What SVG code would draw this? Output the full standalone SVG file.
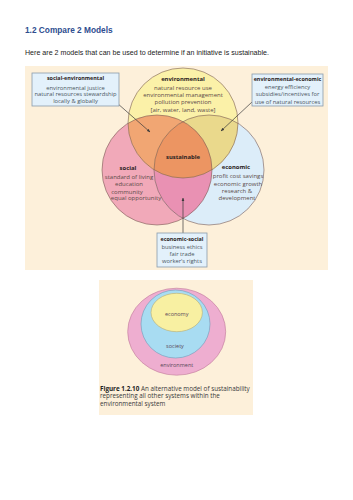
<svg xmlns="http://www.w3.org/2000/svg" width="353" height="500" viewBox="0 0 353 500">
<style>
.title{font-family:"Liberation Sans",Arial,sans-serif;font-weight:bold;font-size:8.3px;fill:#2e4d8f}
.intro{font-family:"Liberation Sans",Arial,sans-serif;font-size:6.4px;fill:#222}
.h{font-family:"Open Sans","Noto Sans",sans-serif;font-weight:bold;font-size:5.9px;fill:#2a2222;text-anchor:middle}
.bh{font-family:"Open Sans","Noto Sans",sans-serif;font-weight:bold;font-size:5.4px;fill:#2a2222;text-anchor:middle}
.t{font-family:"Open Sans","Noto Sans",sans-serif;font-size:6px;fill:#5b4b48;text-anchor:middle}
.bt{font-family:"Open Sans","Noto Sans",sans-serif;font-size:5.8px;fill:#4a5560;text-anchor:middle}
.box{fill:#e3f1fb;stroke:#8a9cab;stroke-width:0.8}
.circ{fill:none;stroke:#7a5c55;stroke-width:0.6}
.arr{stroke:#3a3a3a;stroke-width:0.7;fill:none;marker-end:url(#ah)}
.f2{font-family:"Open Sans","Noto Sans",sans-serif;font-size:5.5px;fill:#5a4a5a;text-anchor:middle}
.cap{font-family:"Open Sans","Noto Sans",sans-serif;font-size:6.3px;fill:#3a3a3a}
</style>
<defs>
<marker id="ah" viewBox="0 0 10 10" refX="9" refY="5" markerWidth="5" markerHeight="5" orient="auto">
<path d="M0,1 L10,5 L0,9 z" fill="#3a3a3a"/>
</marker>
<clipPath id="cp"><circle cx="157" cy="170" r="55"/></clipPath>
<clipPath id="cb"><circle cx="209" cy="170" r="55"/></clipPath>
</defs>

<text class="title" x="25" y="33">1.2 Compare 2 Models</text>
<text class="intro" x="25" y="54.5" textLength="244" lengthAdjust="spacingAndGlyphs">Here are 2 models that can be used to determine if an initiative is sustainable.</text>

<rect x="25" y="66" width="303" height="204" fill="#fdf0da"/>

<g id="venn">
<circle cx="157" cy="170" r="55" fill="#f1a9b9"/>
<circle cx="209" cy="170" r="55" fill="#dcedf9"/>
<circle cx="183" cy="123" r="55" fill="#fbf1a8"/>
<g clip-path="url(#cp)"><circle cx="209" cy="170" r="55" fill="#e991b3"/><circle cx="183" cy="123" r="55" fill="#f1a673"/></g>
<g clip-path="url(#cb)"><circle cx="183" cy="123" r="55" fill="#ead98c"/></g>
<g clip-path="url(#cb)"><g clip-path="url(#cp)"><circle cx="183" cy="123" r="55" fill="#ec9562"/></g></g>
<circle class="circ" cx="157" cy="170" r="55"/>
<circle class="circ" cx="209" cy="170" r="55"/>
<circle class="circ" cx="183" cy="123" r="55"/>
</g>

<g id="environmental">
<text class="h" x="183" y="81">environmental</text>
<text class="t" x="183" y="90">natural resource use</text>
<text class="t" x="183" y="97">environmental management</text>
<text class="t" x="183" y="104">pollution prevention</text>
<text class="t" x="183" y="111.5">[air, water, land, waste]</text>
</g>
<g id="sustainable">
<text class="h" x="183" y="159">sustainable</text>
</g>
<g id="social">
<text class="h" x="128" y="170">social</text>
<text class="t" x="129" y="178.5">standard of living</text>
<text class="t" x="129" y="186">education</text>
<text class="t" x="127" y="193.5">community</text>
<text class="t" x="136" y="200">equal opportunity</text>
</g>
<g id="economic">
<text class="h" x="236" y="169">economic</text>
<text class="t" x="238" y="178">profit cost savings</text>
<text class="t" x="238" y="185.5">economic growth</text>
<text class="t" x="237" y="193">research &amp;</text>
<text class="t" x="237" y="200">development</text>
</g>

<g id="connectors">
<line class="arr" x1="117" y1="103" x2="150" y2="132"/>
<line class="arr" x1="252" y1="102" x2="221" y2="131"/>
<line class="arr" x1="183" y1="233" x2="183" y2="198"/>
</g>

<g id="social-environmental">
<rect class="box" x="32" y="73" width="87" height="33"/>
<text class="bh" x="75.5" y="80">social-environmental</text>
<text class="bt" x="75.5" y="89.5">environmental justice</text>
<text class="bt" x="75.5" y="96">natural resources stewardship</text>
<text class="bt" x="75.5" y="103">locally &amp; globally</text>
</g>
<g id="environmental-economic">
<rect class="box" x="252" y="74" width="71" height="32"/>
<text class="bh" x="287.5" y="81">environmental-economic</text>
<text class="bt" x="287.5" y="89">energy efficiency</text>
<text class="bt" x="287.5" y="96">subsidies/incentives for</text>
<text class="bt" x="287.5" y="103.5">use of natural resources</text>
</g>
<g id="economic-social">
<rect class="box" x="157" y="233" width="50" height="34"/>
<text class="bh" x="182" y="241">economic-social</text>
<text class="bt" x="182" y="249">business ethics</text>
<text class="bt" x="182" y="256">fair trade</text>
<text class="bt" x="182" y="263">worker's rights</text>
</g>

<rect x="99" y="280" width="154" height="135" fill="#fdf0da"/>
<g id="environment">
<ellipse cx="176.7" cy="331.7" rx="49" ry="43.5" fill="#eeaed0" stroke="#c07898" stroke-width="0.6"/>
<text class="f2" x="176.7" y="367">environment</text>
</g>
<g id="society">
<ellipse cx="175.5" cy="324" rx="34.5" ry="34" fill="#a8dcf2" stroke="#6f9cb8" stroke-width="0.6"/>
<text class="f2" x="175" y="347.5">society</text>
</g>
<g id="economy">
<ellipse cx="176.7" cy="312.5" rx="25.7" ry="19.2" fill="#f8f0a2" stroke="#b8ac70" stroke-width="0.6"/>
<text class="f2" x="176.7" y="316">economy</text>
</g>
<g id="caption">
<text class="cap" x="100" y="390.5"><tspan font-weight="bold" fill="#222">Figure 1.2.10</tspan> An alternative model of sustainability</text>
<text class="cap" x="100" y="398">representing all other systems within the</text>
<text class="cap" x="100" y="405.5">environmental system</text>
</g>
</svg>
